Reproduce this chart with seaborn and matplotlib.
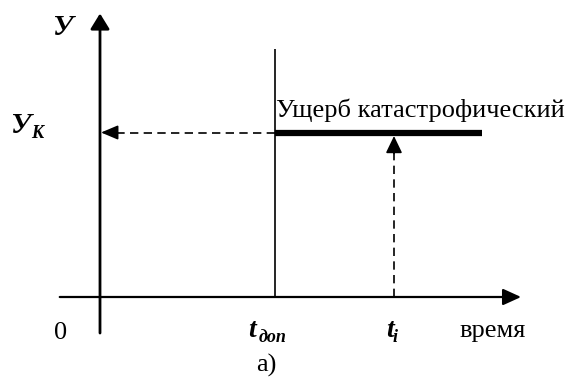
import matplotlib
matplotlib.use("Agg")
import matplotlib.pyplot as plt
import seaborn as sns

# Values (time axis and damage axis, arbitrary units)
T_DOP = 5.0          # допустимое время
T_I = 8.4            # текущий момент t_i
T_END = 10.9         # конец участка катастрофического ущерба
Y_K = 4.7            # уровень катастрофического ущерба
T_DOP_TOP = 7.1      # верх вертикали t_доп
time_axis = [-1.15, 12.03]
damage_axis = [-1.03, 8.1]

damage_t = [T_DOP, T_END]
damage_y = [Y_K, Y_K]

SERIF = "Liberation Serif"

sns.set_theme(style="white")
plt.rcParams["font.family"] = [SERIF, "DejaVu Serif"]

fig = plt.figure(figsize=(5.81, 3.80), dpi=100)
ax = fig.add_axes([0, 0, 1, 1])
ax.set_xlim(-100 / 35, 481 / 35)
ax.set_ylim(-83 / 35, 297 / 35)
ax.axis("off")

def arrow(ax, start, end, lw, hl, hw, ls="-"):
    ax.annotate("", xy=end, xytext=start,
                arrowprops=dict(arrowstyle=f"-|>,head_length={hl},head_width={hw}",
                                lw=lw, color="black", linestyle=ls,
                                shrinkA=0, shrinkB=0, mutation_scale=20))

# axes with arrows
arrow(ax, (0, damage_axis[0]), (0, damage_axis[1]), 2.0, 0.47, 0.29)
arrow(ax, (time_axis[0], 0), (time_axis[1], 0), 1.6, 0.55, 0.25)

# vertical line at t_доп
sns.lineplot(x=[T_DOP, T_DOP], y=[0, T_DOP_TOP], color="black", linewidth=1.2,
             ax=ax, estimator=None, sort=False, solid_capstyle="butt")

# catastrophic damage segment
sns.lineplot(x=damage_t, y=damage_y, color="black", linewidth=4.5,
             ax=ax, estimator=None, sort=False, solid_capstyle="butt")

# dashed projection lines
dash = (0, (5, 3.2))
sns.lineplot(x=[T_DOP, 0.35], y=[Y_K, Y_K], color="black", linewidth=1.2,
             linestyle=dash, ax=ax, estimator=None, sort=False, dash_capstyle="butt")
arrow(ax, (0.5, Y_K), (0.03, Y_K), 1.2, 0.52, 0.22)
sns.lineplot(x=[T_I, T_I], y=[0, Y_K - 0.45], color="black", linewidth=1.2,
             linestyle=dash, ax=ax, estimator=None, sort=False, dash_capstyle="butt")
arrow(ax, (T_I, Y_K - 0.6), (T_I, Y_K - 0.1), 1.2, 0.52, 0.25)

# labels
fs = 19
bi = dict(fontweight="bold", fontstyle="italic", color="black")
ax.text(-1.09, 7.69, "У", fontsize=21, ha="center", va="center", **bi)
ax.text(-2.28, 4.91, "У", fontsize=21, ha="center", va="center", **bi)
ax.text(-1.8, 4.66, "К", fontsize=13, ha="center", va="center", **bi)

ax.text(5.02, 5.14, "Ущерб катастрофический", fontsize=fs, ha="left",
        va="baseline", color="black")

ax.text(-1.14, -1.03, "0", fontsize=fs, ha="center", va="center", color="black")
ax.text(4.23, -1.14, "t", fontsize=20, ha="left", va="baseline", **bi)
ax.text(4.54, -1.29, "доп", fontsize=13, ha="left", va="baseline", **bi)
ax.text(8.17, -1.14, "t", fontsize=20, ha="left", va="baseline", **bi)
ax.text(8.37, -1.29, "i", fontsize=13, ha="left", va="baseline", **bi)
ax.text(11.23, -1.14, "время", fontsize=fs, ha="center", va="baseline", color="black")
ax.text(4.74, -2.14, "а)", fontsize=fs, ha="center", va="baseline", color="black")

fig.savefig("out.png", dpi=100)
